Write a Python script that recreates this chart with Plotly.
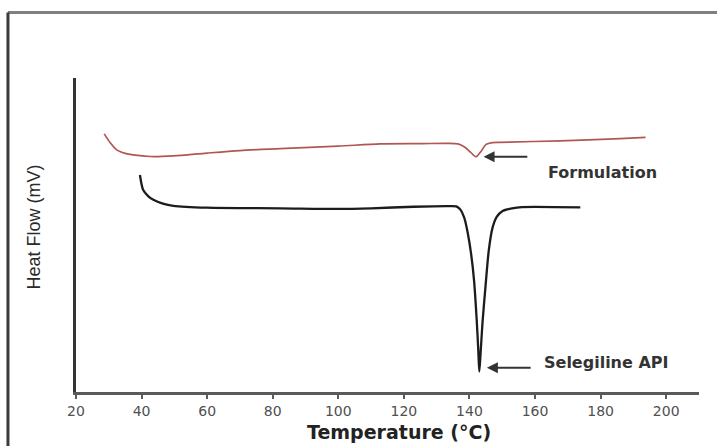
import plotly.graph_objects as go

# ---- data (temperature in °C, heat flow in arbitrary mV units) ----
form_T = [28.6, 30.5, 32.4, 35.0, 37.5, 42.6, 49.7, 59.9, 70.0, 82.3, 100.0, 112.8, 125.0,
          133.2, 136.5, 138.5, 140.3, 142.0, 143.5, 145.0, 147.0, 149.4, 167.7, 186.0, 193.7]
form_HF = [8.22, 7.93, 7.71, 7.60, 7.55, 7.50, 7.52, 7.61, 7.69, 7.75, 7.83, 7.90, 7.91,
           7.92, 7.90, 7.80, 7.64, 7.49, 7.66, 7.88, 7.94, 7.95, 8.00, 8.07, 8.11]

api_T = [39.5, 40.5, 42.0, 43.6, 46.5, 49.7, 59.9, 82.3, 100.0, 110.0, 123.0, 133.2,
         136.0, 137.3, 138.4, 139.5, 140.5, 141.4, 142.2, 142.7, 143.0, 143.4, 144.0,
         144.8, 145.9, 147.0, 148.3, 150.0, 153.0, 156.0, 173.8]
api_HF = [6.91, 6.43, 6.24, 6.12, 6.00, 5.93, 5.87, 5.85, 5.83, 5.85, 5.90, 5.92,
          5.91, 5.80, 5.55, 5.05, 4.40, 3.55, 2.30, 1.30, 0.65, 1.25, 2.25,
          3.25, 4.52, 5.22, 5.58, 5.76, 5.85, 5.89, 5.88]

x_ticks = [20, 40, 60, 80, 100, 120, 140, 160, 180, 200]
labels = ["Formulation", "Selegiline API"]

fig = go.Figure()
fig.add_trace(go.Scatter(x=form_T, y=form_HF, mode="lines", name=labels[0],
                         line=dict(color="#b25652", width=1.7, shape="spline", smoothing=0.8)))
fig.add_trace(go.Scatter(x=api_T, y=api_HF, mode="lines", name=labels[1],
                         line=dict(color="#1c1c1c", width=2.3, shape="spline", smoothing=0.8)))


def peak_point(T, H, tmin=130):
    """Lowest point of the endothermic peak (searched above tmin)."""
    cand = [(h, t) for t, h in zip(T, H) if t > tmin]
    h, t = min(cand)
    return t, h


ann = []
specs = [(form_T, form_HF, labels[0], 0.0, 7.006, 21.2),
         (api_T, api_HF, labels[1], 0.12, 0.924, 19.2)]
for T, H, lab, dy, ty, dx_text in specs:
    pt, ph = peak_point(T, H)
    tipx = pt + 2.3
    tipy = ph + dy
    ann.append(dict(x=tipx, y=tipy, ax=tipx + 13.8, ay=tipy, xref="x", yref="y",
                    axref="x", ayref="y", text="", showarrow=True, arrowhead=2,
                    arrowsize=1.1, arrowwidth=2, arrowcolor="#333333", standoff=0))
    ann.append(dict(x=pt + dx_text, y=ty, xref="x", yref="y",
                    text="<b>%s</b>" % lab, showarrow=False, xanchor="left", yanchor="middle",
                    font=dict(family="DejaVu Sans", size=16, color="#333333")))

# axis titles
ann.append(dict(x=0.518, y=-0.127, xref="paper", yref="paper", text="<b>Temperature (°C)</b>",
                showarrow=False, xanchor="center", yanchor="middle",
                font=dict(family="DejaVu Sans", size=19, color="#222222")))
ann.append(dict(x=-0.0674, y=0.5236, xref="paper", yref="paper", text="Heat Flow (mV)",
                showarrow=False, textangle=-90, xanchor="center", yanchor="middle",
                font=dict(family="Liberation Sans", size=18, color="#2a2a2a")))

fig.update_layout(
    width=717, height=446,
    margin=dict(l=76, r=18, t=78, b=54),
    paper_bgcolor="white", plot_bgcolor="white",
    showlegend=False,
    annotations=ann,
    xaxis=dict(range=[20, 210], tickvals=x_ticks, showline=True, linecolor="#5a5a5a",
               linewidth=2.5, ticks="outside", ticklen=4, tickwidth=2, tickcolor="#5a5a5a",
               showgrid=False, zeroline=False,
               tickfont=dict(family="DejaVu Sans", size=14, color="#505050")),
    yaxis=dict(range=[0, 10], showline=True, linecolor="#333333", linewidth=2.5,
               showticklabels=False, ticks="", showgrid=False, zeroline=False),
    shapes=[
        dict(type="line", xref="paper", yref="paper", x0=-0.1092, x1=1.04, y0=1.2086, y1=1.2086,
             line=dict(color="#808080", width=3)),
        dict(type="line", xref="paper", yref="paper", x0=-0.1092, x1=-0.1092, y0=1.2086, y1=-0.2,
             line=dict(color="#3a3a3a", width=3)),
    ],
)

fig.write_html("out.html")
